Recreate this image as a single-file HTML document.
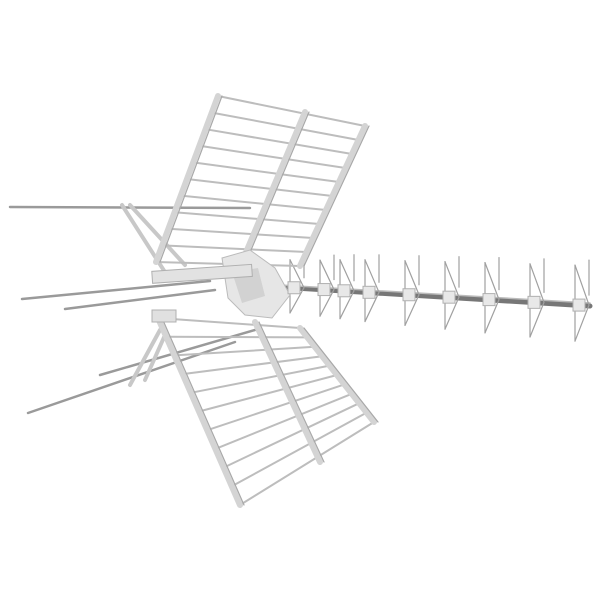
<!DOCTYPE html>
<html><head><meta charset="utf-8"><style>
html,body{margin:0;padding:0;background:#fff;width:600px;height:600px;overflow:hidden}
</style></head><body>
<svg id="s" width="600" height="600" viewBox="0 0 600 600" xmlns="http://www.w3.org/2000/svg">
<g stroke-linecap="round" fill="none">
<g stroke="#9a9a9a" stroke-width="2.5">
<line x1="10" y1="207" x2="250" y2="208"/>
<line x1="22" y1="299" x2="210" y2="281"/>
<line x1="65" y1="309" x2="215" y2="290"/>
<line x1="100" y1="375" x2="255" y2="330"/>
<line x1="28" y1="413" x2="235" y2="342"/>
</g>
<g stroke="#c8c8c8" stroke-width="4">
<line x1="122" y1="205" x2="170" y2="280"/>
<line x1="130" y1="205" x2="185" y2="265"/>
<line x1="160" y1="330" x2="130" y2="385"/>
<line x1="165" y1="335" x2="145" y2="380"/>
</g>
<line x1="245" y1="285" x2="590" y2="306" stroke="#777" stroke-width="5"/>
<line x1="245" y1="283" x2="590" y2="303" stroke="#bbb" stroke-width="1.5"/>
<g id="dirs" stroke="#a0a0a0" stroke-width="1.2"></g>
<g id="up" stroke="#bdbdbd" stroke-width="2"></g>
<g stroke="#d4d4d4" stroke-width="6">
<line x1="218" y1="96" x2="156" y2="262"/>
<line x1="305" y1="112" x2="242" y2="262"/>
<line x1="365" y1="126" x2="300" y2="266"/>
</g>
<g stroke="#a8a8a8" stroke-width="1.2">
<line x1="222" y1="96" x2="160" y2="262"/>
<line x1="309" y1="112" x2="246" y2="262"/>
<line x1="369" y1="126" x2="304" y2="266"/>
</g>
<g id="lo" stroke="#bdbdbd" stroke-width="2"></g>
<g stroke="#d4d4d4" stroke-width="6">
<line x1="158" y1="318" x2="240" y2="505"/>
<line x1="255" y1="322" x2="320" y2="462"/>
<line x1="300" y1="328" x2="374" y2="422"/>
</g>
<g stroke="#a8a8a8" stroke-width="1.2">
<line x1="162" y1="318" x2="244" y2="505"/>
<line x1="259" y1="322" x2="324" y2="462"/>
<line x1="304" y1="328" x2="378" y2="422"/>
</g>
</g>
<path d="M222 258 L250 250 L275 268 L290 295 L272 318 L245 315 L228 298 Z" fill="#e6e6e6" stroke="#bbb"/>
<path d="M232 272 L258 268 L265 296 L242 303 Z" fill="#d2d2d2"/>
<rect x="152" y="268" width="100" height="12" fill="#e2e2e2" stroke="#b0b0b0" transform="rotate(-4 200 273)"/>
<rect x="152" y="310" width="24" height="12" fill="#e0e0e0" stroke="#b0b0b0"/>
<script>
var ns="http://www.w3.org/2000/svg";
function L(g,a,b,c,d){var l=document.createElementNS(ns,"line");l.setAttribute("x1",a);l.setAttribute("y1",b);l.setAttribute("x2",c);l.setAttribute("y2",d);document.getElementById(g).appendChild(l);}
for(var i=0;i<=10;i++){var t=i/10;L("up",218-62*t,96+166*t,365-65*t,126+140*t);}
for(var i=0;i<=10;i++){var t=i/10;L("lo",158+82*t,318+187*t,300+74*t,328+94*t);}
var xs=[290,320,340,365,405,445,485,530,575];
xs.forEach(function(x,i){var y=285+(x-245)*21/345;var h=28+i*1.5;
L("dirs",x,y-h,x,y+h*0.9);L("dirs",x,y-h,x+14,y);L("dirs",x,y+h*0.9,x+14,y);
L("dirs",x+14,y-h-5,x+14,y-10);
var r=document.createElementNS(ns,"rect");r.setAttribute("x",x-2);r.setAttribute("y",y-6);r.setAttribute("width",12);r.setAttribute("height",12);r.setAttribute("fill","#e8e8e8");r.setAttribute("stroke","#b0b0b0");document.getElementById("s").appendChild(r);});
</script>
</svg>
</body></html>
